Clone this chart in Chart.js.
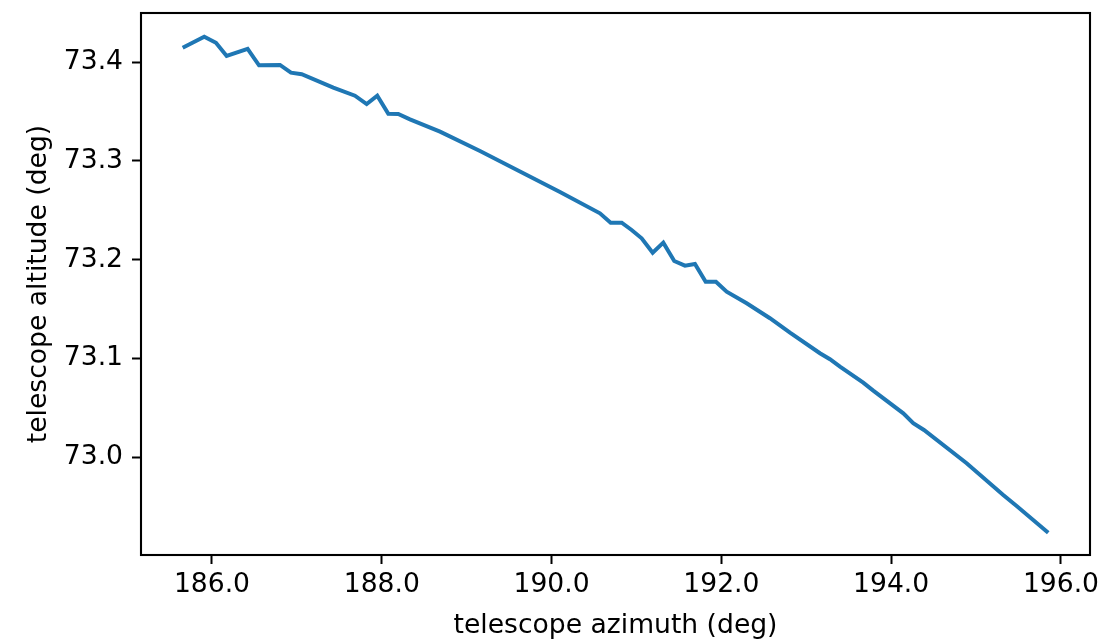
<!DOCTYPE html>
<html>
<head>
<meta charset="utf-8">
<script src="https://cdn.jsdelivr.net/npm/chart.js@4/dist/chart.umd.min.js"></script>
<style>
  html, body { margin: 0; padding: 0; background: #fff; }
  #wrap { width: 1103px; height: 639px; }
</style>
</head>
<body>
<div id="wrap"><canvas id="altChart" width="1103" height="639"></canvas></div>
<script>
// telescope pointing track
const azimuth = [
  185.655, 185.909, 186.047, 186.173, 186.420, 186.554, 186.801, 186.930,
  187.057, 187.429, 187.684, 187.822, 187.947, 188.077, 188.194, 188.332,
  188.686, 189.157, 189.628, 190.099, 190.570, 190.696, 190.826, 190.943,
  191.061, 191.191, 191.316, 191.445, 191.571, 191.689, 191.815, 191.936,
  192.062, 192.298, 192.572, 192.808, 193.161, 193.279, 193.397, 193.671,
  193.789, 194.143, 194.260, 194.386, 194.889, 195.320, 195.478, 195.850
];
const altitude = [
  73.4145, 73.4256, 73.4195, 73.4061, 73.4132, 73.3967, 73.3970, 73.3892,
  73.3876, 73.3740, 73.3659, 73.3575, 73.3659, 73.3477, 73.3474, 73.3420,
  73.3295, 73.3099, 73.2892, 73.2685, 73.2469, 73.2374, 73.2374, 73.2300,
  73.2216, 73.2070, 73.2172, 73.1986, 73.1939, 73.1956, 73.1777, 73.1777,
  73.1676, 73.1558, 73.1407, 73.1261, 73.1053, 73.0992, 73.0917, 73.0755,
  73.0674, 73.0445, 73.0344, 73.0276, 72.9940, 72.9619, 72.9507, 72.9237
];
const xTicks = [186, 188, 190, 192, 194, 196];
const yTicks = [73.0, 73.1, 73.2, 73.3, 73.4];

const points = azimuth.map((a, i) => ({ x: a, y: altitude[i] }));

const fontFam = "'DejaVu Sans', sans-serif";
const fontSize = 26.6;

// matplotlib style box round the axes
const frameBox = {
  id: 'frameBox',
  afterDraw(chart) {
    const a = chart.chartArea;
    const c = chart.ctx;
    c.save();
    c.strokeStyle = '#000';
    c.lineWidth = 2.1;
    c.strokeRect(a.left, a.top, a.right - a.left, a.bottom - a.top);
    c.restore();
  }
};

const ctx = document.getElementById('altChart');
const chart = new Chart(ctx, {
  type: 'scatter',
  data: {
    datasets: [{
      data: points,
      showLine: true,
      borderColor: '#1f77b4',
      borderWidth: 4,
      pointRadius: 0,
      tension: 0,
      fill: false
    }]
  },
  plugins: [frameBox],
  options: {
    responsive: false,
    animation: false,
    devicePixelRatio: 1,
    layout: { padding: { left: 0, top: 13, right: 13, bottom: 0 } },
    plugins: { legend: { display: false }, tooltip: { enabled: false } },
    scales: {
      x: {
        type: 'linear',
        min: 185.164,
        max: 196.342,
        afterBuildTicks: (s) => { s.ticks = xTicks.map(v => ({ value: v })); },
        afterFit: (s) => { s.height = 84; s.paddingLeft = 0; s.paddingRight = 0; },
        border: { display: false },
        grid: { drawOnChartArea: false, drawTicks: true, tickLength: 9, tickWidth: 2, tickColor: '#000' },
        ticks: {
          color: '#000',
          padding: 5,
          maxRotation: 0,
          font: { family: fontFam, size: fontSize },
          callback: (v) => Number(v).toFixed(1)
        },
        title: {
          display: true,
          text: 'telescope azimuth (deg)',
          color: '#000',
          font: { family: fontFam, size: fontSize },
          padding: { top: 0, bottom: -3 }
        }
      },
      y: {
        type: 'linear',
        min: 72.9011,
        max: 73.4496,
        afterBuildTicks: (s) => { s.ticks = yTicks.map(v => ({ value: v })); },
        afterFit: (s) => { s.width = 141; s.paddingTop = 0; s.paddingBottom = 0; },
        border: { display: false },
        grid: { drawOnChartArea: false, drawTicks: true, tickLength: 9, tickWidth: 2, tickColor: '#000' },
        ticks: {
          color: '#000',
          padding: 9,
          font: { family: fontFam, size: fontSize },
          callback: (v) => Number(v).toFixed(1)
        },
        title: {
          display: true,
          text: 'telescope altitude (deg)',
          color: '#000',
          font: { family: fontFam, size: fontSize },
          padding: { top: 23, bottom: 0 }
        }
      }
    }
  }
});
</script>
</body>
</html>
